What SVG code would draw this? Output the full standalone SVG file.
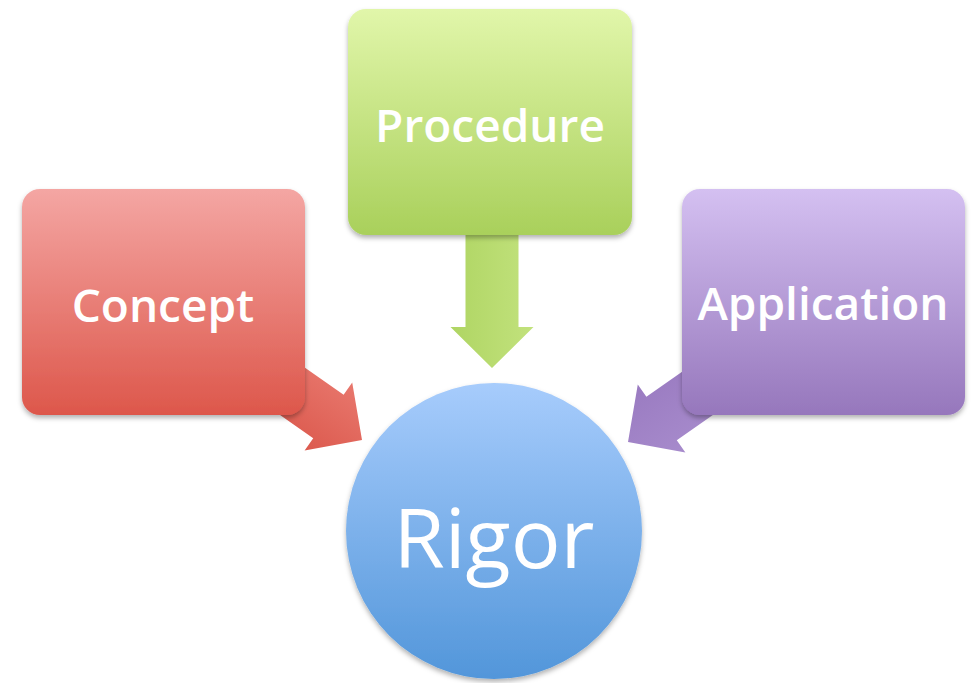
<svg xmlns="http://www.w3.org/2000/svg" width="973" height="683" viewBox="0 0 973 683">
<defs>
<linearGradient id="gRed" x1="0" y1="0" x2="0" y2="1"><stop offset="0" stop-color="#f4a6a3"/><stop offset="1" stop-color="#dd574b"/></linearGradient>
<linearGradient id="gGreen" x1="0" y1="0" x2="0" y2="1"><stop offset="0" stop-color="#e1f6aa"/><stop offset="1" stop-color="#a9d05b"/></linearGradient>
<linearGradient id="gPurple" x1="0" y1="0" x2="0" y2="1"><stop offset="0" stop-color="#d4c0f1"/><stop offset="1" stop-color="#9677bc"/></linearGradient>
<linearGradient id="gBlue" x1="0" y1="0" x2="0" y2="1"><stop offset="0" stop-color="#a7ccfc"/><stop offset="1" stop-color="#5296da"/></linearGradient>
<linearGradient id="gRedA" x1="0" y1="0" x2="0" y2="1"><stop offset="0" stop-color="#e8776d"/><stop offset="1" stop-color="#dc5a4e"/></linearGradient>
<linearGradient id="gGreenA" x1="0" y1="0" x2="0" y2="1"><stop offset="0" stop-color="#c2e27d"/><stop offset="1" stop-color="#afd563"/></linearGradient>
<linearGradient id="gPurpleA" x1="0" y1="0" x2="0" y2="1"><stop offset="0" stop-color="#a78bcc"/><stop offset="1" stop-color="#9a7bc1"/></linearGradient>
<filter id="sh" x="-10%" y="-10%" width="120%" height="125%"><feDropShadow dx="0" dy="3" stdDeviation="2.5" flood-color="#000" flood-opacity="0.3"/></filter>
<path id="arrow" d="M0,0 L-41,-41.5 L-41,-26.5 L-140,-26.5 L-140,26.5 L-41,26.5 L-41,41.5 Z"/>
</defs>
<style>
.lbl{font-family:"Open Sans","Liberation Sans",sans-serif;fill:#fff;text-anchor:middle}
.sm{font-size:46px;font-weight:600}
</style>
<g id="connectors">
<use href="#arrow" fill="url(#gRedA)" transform="translate(362,440) rotate(35)"/>
<use href="#arrow" fill="url(#gGreenA)" transform="translate(492,368) rotate(90)"/>
<use href="#arrow" fill="url(#gPurpleA)" transform="translate(628,442) rotate(145)"/>
</g>
<g id="concept">
<rect x="22" y="189" width="283" height="226" rx="18" fill="url(#gRed)" filter="url(#sh)"/>
<text class="lbl sm" x="163" y="322">Concept</text>
</g>
<g id="procedure">
<rect x="348" y="9" width="284" height="226" rx="18" fill="url(#gGreen)" filter="url(#sh)"/>
<text class="lbl sm" x="490" y="142">Procedure</text>
</g>
<g id="application">
<rect x="682" y="189" width="283" height="226" rx="18" fill="url(#gPurple)" filter="url(#sh)"/>
<text class="lbl sm" x="823" y="320">Application</text>
</g>
<g id="rigor">
<circle cx="494" cy="531" r="148" fill="url(#gBlue)" filter="url(#sh)"/>
<text class="lbl" x="494" y="568" font-size="83" font-weight="500">Rigor</text>
</g>
</svg>
